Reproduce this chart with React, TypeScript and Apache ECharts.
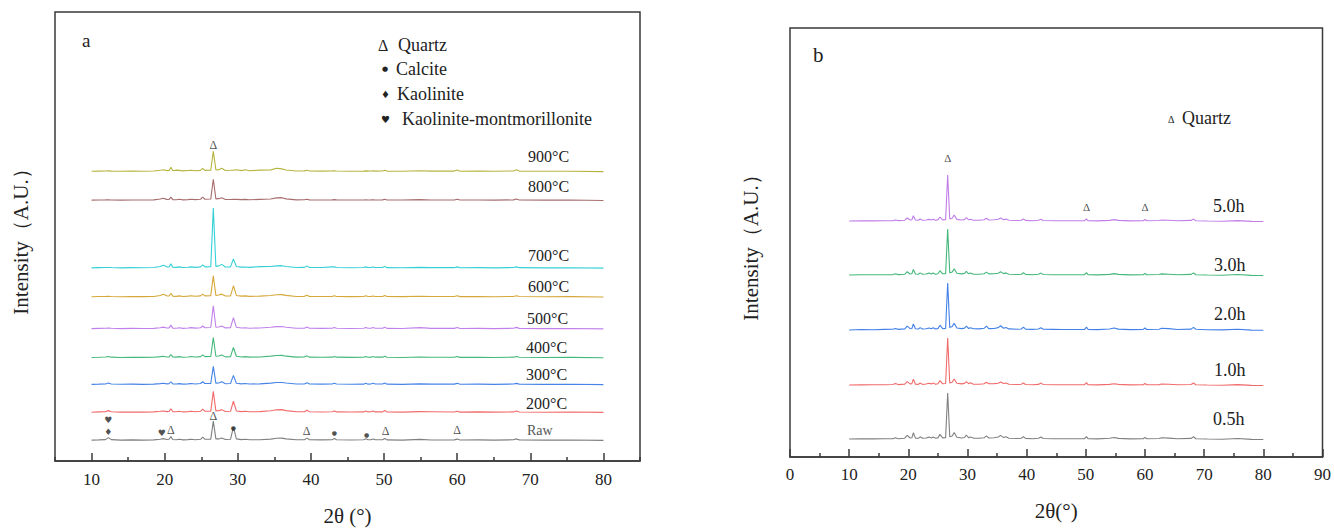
import React, { useEffect, useRef } from "react";
import * as echarts from "echarts";

// ---------- Panel a data ----------
const xA = [
  10, 11, 11.9, 12.3, 12.7, 14, 15.5, 17, 18.5, 19.4,
  19.8, 20.3, 20.6, 20.85, 21.1, 21.6, 22, 22.5, 23.2, 23.6,
  24.2, 24.9, 25.2, 25.5, 26.3, 26.65, 27, 27.4, 27.8, 28.3,
  29, 29.4, 29.8, 30.5, 31, 31.6, 33, 34.5, 35.3, 36,
  36.6, 38, 39.1, 39.45, 39.8, 41.5, 42.9, 43.2, 43.5, 45.5,
  47.2, 47.5, 47.8, 48.2, 48.5, 48.8, 49.8, 50.1, 50.4, 52.5,
  54.9, 56.5, 59.6, 60, 60.4, 63, 65, 67.7, 68.1, 68.5,
  72, 75.5, 80,
];
const rawA = [
  0, 0.2, 0.5, 2.5, 0.5, 0, 0.2, 0, 0.2, 0.8,
  1.5, 0.6, 0.8, 3.5, 0.6, 0.3, 0.8, 0.2, 0.5, 0.9,
  0.4, 0.8, 3, 0.8, 1, 19, 1.2, 1.2, 2.2, 0.6,
  0.8, 13, 1.2, 0.5, 0.8, 0.3, 0.4, 1, 1.8, 2,
  1.2, 0.3, 0.4, 2, 0.4, 0.2, 0.4, 1.5, 0.3, 0.1,
  0.3, 1.3, 0.3, 0.4, 1.2, 0.3, 0.3, 1.6, 0.2, 0,
  0.7, 0.1, 0.2, 1, 0.1, 0.2, 0, 0.3, 1.2, 0.2,
  0, 0.1, -0.3,
];
const t200 = [
  0, 0.3, 0.5, 1.6, 0.4, 0.1, 0.2, 0.1, 0.3, 0.9,
  1.3, 0.6, 0.8, 3.5, 0.5, 0.4, 0.9, 0.3, 0.6, 1.0,
  0.5, 0.9, 3.2, 0.9, 1.1, 21, 1.3, 1.5, 2.6, 0.7,
  0.9, 11, 1.3, 0.6, 0.9, 0.4, 0.6, 1.4, 2.4, 2.6,
  1.6, 0.4, 0.5, 2.0, 0.4, 0.2, 0.4, 1.3, 0.3, 0.2,
  0.3, 1.2, 0.3, 0.4, 1.2, 0.3, 0.3, 1.8, 0.2, 0.1,
  0.6, 0.5, 0.2, 1.0, 0.1, 0.3, 0.1, 0.3, 1.2, 0.2,
  0, 0.2, -0.2,
];
const t300 = [
  0, 0.2, 0.4, 1.3, 0.3, 0.1, 0.2, 0, 0.2, 0.7,
  1.1, 0.5, 0.6, 2.6, 0.4, 0.3, 0.7, 0.2, 0.5, 0.8,
  0.4, 0.8, 2.6, 0.8, 1.0, 18, 1.2, 1.3, 2.5, 0.6,
  0.8, 9, 1.1, 0.5, 0.8, 0.3, 0.5, 1.2, 1.8, 1.9,
  1.3, 0.3, 0.4, 1.6, 0.3, 0.2, 0.3, 1.0, 0.3, 0.1,
  0.2, 1.0, 0.2, 0.3, 1.0, 0.3, 0.3, 1.3, 0.2, 0,
  0.5, 0.2, 0.2, 1.0, 0.1, 0.2, 0, 0.3, 1.0, 0.2,
  0, 0.1, -0.3,
];
const t400 = [
  0, 0.2, 0.4, 1.0, 0.3, 0, 0.2, 0.1, 0.2, 0.8,
  1.2, 0.5, 0.6, 3.0, 0.4, 0.3, 0.8, 0.2, 0.5, 0.9,
  0.4, 0.8, 2.6, 0.8, 1.0, 20, 1.2, 1.4, 2.5, 0.6,
  0.8, 10, 1.2, 0.5, 0.8, 0.3, 0.5, 1.3, 2.0, 2.1,
  1.3, 0.3, 0.4, 1.6, 0.3, 0.2, 0.3, 1.0, 0.3, 0.1,
  0.2, 0.9, 0.2, 0.3, 0.9, 0.3, 0.3, 1.3, 0.2, 0,
  0.5, 0.2, 0.2, 1.0, 0.1, 0.2, 0, 0.3, 1.0, 0.2,
  0, 0.1, -0.3,
];
const t500 = [
  0, 0.2, 0.3, 0.6, 0.3, 0, 0.2, 0.1, 0.2, 0.9,
  1.5, 0.6, 0.7, 3.5, 0.5, 0.3, 0.8, 0.2, 0.6, 1.0,
  0.5, 0.9, 2.6, 0.9, 1.1, 23, 1.3, 1.6, 2.6, 0.7,
  0.9, 11, 1.3, 0.6, 0.9, 0.4, 0.6, 1.3, 2.0, 2.1,
  1.4, 0.3, 0.4, 1.6, 0.3, 0.2, 0.3, 1.0, 0.3, 0.1,
  0.3, 1.0, 0.3, 0.4, 1.0, 0.3, 0.3, 1.4, 0.2, 0.1,
  1.0, 0.2, 0.2, 1.0, 0.1, 0.2, 0, 0.3, 1.2, 0.2,
  0, 0.1, -0.3,
];
const t600 = [
  0, 0.2, 0.3, 0.4, 0.3, 0, 0.2, 0.1, 0.3, 1.2,
  2.5, 0.9, 0.8, 3.5, 0.6, 0.4, 0.9, 0.3, 0.6, 1.0,
  0.5, 0.9, 2.6, 0.9, 1.1, 21, 1.4, 1.7, 2.6, 0.8,
  0.9, 11, 1.3, 0.6, 0.9, 0.4, 0.6, 1.3, 2.0, 2.1,
  1.4, 0.3, 0.4, 1.5, 0.3, 0.2, 0.3, 1.0, 0.3, 0.1,
  0.3, 1.0, 0.3, 0.3, 0.8, 0.3, 0.3, 1.3, 0.2, 0.1,
  0.5, 0.2, 0.2, 1.0, 0.1, 0.2, 0, 0.3, 1.0, 0.2,
  0, 0.1, -0.3,
];
const t700 = [
  0, 0.2, 0.3, 0.4, 0.3, 0, 0.2, 0.1, 0.3, 1.3,
  2.6, 1.0, 0.9, 4.0, 0.6, 0.5, 1.0, 0.3, 0.6, 1.0,
  0.5, 1.0, 3.0, 1.0, 1.2, 60, 1.5, 2.0, 3.5, 0.9,
  1.0, 9, 1.3, 0.7, 0.9, 0.5, 1.2, 1.3, 2.0, 2.2,
  1.4, 0.3, 0.5, 2.0, 0.4, 0.3, 1.0, 1.0, 0.3, 0.1,
  0.3, 1.0, 0.3, 0.3, 0.8, 0.3, 0.3, 1.5, 0.2, 0.1,
  0.5, 0.2, 0.2, 1.0, 0.1, 0.2, 0, 0.3, 1.0, 0.2,
  0, 0.1, -0.3,
];
const t800 = [
  0, 0.2, 0.3, 0.4, 0.2, 0, 0.2, 0.1, 0.3, 1.2,
  2.0, 0.8, 0.7, 3.0, 0.5, 0.4, 0.9, 0.3, 0.5, 0.9,
  0.5, 0.9, 3.0, 0.9, 1.1, 21, 1.3, 1.5, 2.5, 0.7,
  0.6, 0.8, 0.8, 0.5, 0.8, 0.4, 0.8, 1.2, 2.3, 2.5,
  1.3, 0.3, 0.4, 1.0, 0.3, 0.2, 0.3, 0.5, 0.3, 0.1,
  0.2, 0.4, 0.2, 0.3, 0.4, 0.2, 0.3, 1.0, 0.2, 0.1,
  0.5, 0.2, 0.2, 1.0, 0.1, 0.2, 0, 0.3, 1.2, 0.2,
  0, 0.1, -0.3,
];
const t900 = [
  0, 0.2, 0.3, 0.4, 0.2, 0, 0.2, 0.1, 0.3, 1.0,
  1.5, 0.7, 0.8, 4.0, 0.6, 1.2, 0.9, 0.4, 0.8, 1.0,
  0.5, 0.9, 3.0, 0.9, 1.1, 20, 1.4, 1.6, 3.0, 0.8,
  1.0, 1.2, 1.5, 0.7, 1.5, 0.5, 1.2, 1.4, 3.0, 2.4,
  1.3, 0.3, 0.4, 1.0, 0.3, 0.2, 0.4, 0.5, 0.3, 0.1,
  0.2, 0.4, 0.2, 0.3, 0.4, 0.2, 0.3, 1.0, 0.2, 0.1,
  0.5, 0.2, 0.2, 1.2, 0.1, 0.2, 0, 0.3, 1.5, 0.2,
  0, 0.1, -0.3,
];
const namesA = ["Raw", "200°C", "300°C", "400°C", "500°C", "600°C", "700°C", "800°C", "900°C"];
const tracesA = [rawA, t200, t300, t400, t500, t600, t700, t800, t900];
const offsetsA = [21, 49, 77, 104, 133, 165, 194, 262, 291];

// phase marks in panel a: [2θ, intensity level, glyph]
const marksAx = [12.3, 12.3, 19.6, 20.85, 26.65, 29.4, 39.4, 43.2, 47.6, 50.2, 60.0, 26.65];
const marksAy = [41, 29, 28, 31, 45, 34, 30, 29, 27, 30, 31, 317];
const marksAg = ["♥", "♦", "♥", "Δ", "Δ", "●", "Δ", "●", "●", "Δ", "Δ", "Δ"];

// ---------- Panel b data ----------
const xB = [
  10, 12, 14, 16, 17.4, 17.8, 18.3, 19.4, 19.8, 20.3,
  20.6, 20.85, 21.2, 21.7, 22.0, 22.4, 23.0, 23.5, 23.9, 24.2,
  24.6, 25.0, 25.35, 25.8, 26.3, 26.65, 27.0, 27.4, 27.75, 28.2,
  29.0, 29.5, 29.8, 30.2, 30.5, 31.0, 32.0, 32.8, 33.2, 33.6,
  34.5, 35.2, 35.6, 36.1, 36.5, 37.0, 38.5, 39.1, 39.45, 39.8,
  41.0, 42.0, 42.4, 42.8, 44.5, 46.0, 48.0, 49.8, 50.1, 50.4,
  52.0, 54.0, 54.8, 55.5, 57.5, 59.7, 60.0, 60.3, 62.4, 62.8,
  64.0, 65.5, 67.8, 68.2, 68.6, 70.5, 73.0, 75.7, 78.0, 80.0,
];
const h05 = [
  0, 0.2, 0.1, 0.2, 0.3, 1.2, 0.3, 0.8, 3.6, 1.0,
  1.2, 6.2, 0.9, 0.7, 2.2, 0.7, 1.0, 1.9, 1.0, 2.0,
  0.8, 1.1, 4.6, 1.1, 1.4, 46, 2.2, 3.0, 6.5, 1.8,
  1.0, 1.5, 4.0, 1.2, 1.9, 0.9, 0.7, 1.2, 3.2, 1.0,
  1.2, 2.0, 3.6, 1.4, 2.2, 0.7, 0.5, 0.7, 2.4, 0.6,
  0.3, 0.7, 2.0, 0.5, 0.3, 0.2, 0.2, 0.3, 2.4, 0.2,
  0.1, 0.7, 1.5, 0.6, 0.1, 0.3, 1.6, 0.2, 0.5, 1.2,
  0.9, 0.2, 0.6, 2.2, 0.3, 0.0, -0.2, 0.5, -0.4, -0.5,
];
const h10 = [
  0, 0.1, 0.2, 0.2, 0.5, 1.4, 0.4, 0.9, 3.4, 1.1,
  1.3, 5.8, 0.8, 0.6, 2.0, 0.6, 1.0, 1.8, 1.1, 1.9,
  0.7, 1.2, 4.4, 1.2, 1.5, 47, 2.0, 2.8, 6.0, 1.7,
  1.1, 1.6, 3.4, 1.3, 2.2, 0.8, 0.7, 1.3, 2.8, 1.2,
  1.4, 1.7, 3.0, 1.5, 2.0, 0.7, 0.5, 0.7, 2.0, 0.5,
  0.3, 0.6, 1.9, 0.5, 0.2, 0.3, 0.2, 0.3, 2.3, 0.2,
  0.1, 0.6, 1.3, 0.6, 0.1, 0.3, 1.5, 0.2, 0.4, 1.0,
  0.8, 0.2, 0.5, 2.0, 0.3, 0.0, -0.2, 0.4, -0.4, -0.5,
];
const h20 = [
  0, 0.5, 0.2, 0.6, 0.7, 1.5, 0.6, 1.1, 3.8, 1.3,
  1.5, 6.0, 1.2, 1.0, 2.4, 1.0, 1.2, 2.0, 1.2, 2.2,
  1.1, 1.4, 4.8, 1.3, 1.6, 47, 2.4, 3.4, 6.8, 2.0,
  1.4, 1.9, 3.8, 1.5, 2.3, 1.2, 1.1, 1.7, 3.8, 1.4,
  1.5, 2.4, 4.2, 1.8, 2.5, 1.1, 0.7, 1.0, 2.8, 0.8,
  0.6, 1.0, 2.2, 0.7, 0.6, 0.5, 0.5, 0.6, 2.8, 0.5,
  0.4, 1.0, 2.0, 0.9, 0.4, 0.6, 2.0, 0.5, 0.8, 1.8,
  1.4, 0.5, 0.9, 2.6, 0.8, 0.3, 0.1, 0.8, -0.1, -0.3,
];
const h30 = [
  0, 0.2, 0.2, 0.2, 0.4, 1.2, 0.4, 0.7, 3.3, 1.0,
  1.2, 5.6, 1.0, 0.7, 2.1, 0.7, 1.0, 1.9, 1.0, 2.0,
  0.8, 1.2, 4.3, 1.2, 1.4, 46, 2.1, 2.9, 6.3, 1.7,
  1.1, 1.6, 3.6, 1.2, 2.0, 0.8, 0.7, 1.2, 2.9, 1.1,
  1.2, 1.8, 3.2, 1.4, 2.1, 0.7, 0.5, 0.7, 2.2, 0.6,
  0.3, 0.7, 1.9, 0.5, 0.3, 0.2, 0.2, 0.3, 2.4, 0.2,
  0.1, 0.6, 1.4, 0.6, 0.1, 0.3, 1.5, 0.2, 0.5, 1.1,
  0.8, 0.2, 0.6, 2.0, 0.3, 0.0, -0.2, 0.5, -0.4, -0.5,
];
const h50 = [
  0, 0.2, 0.1, 0.2, 0.4, 1.0, 0.4, 0.8, 3.0, 1.0,
  1.2, 5.2, 1.0, 0.7, 2.0, 0.7, 1.0, 1.6, 1.0, 1.8,
  0.8, 1.1, 4.0, 1.1, 1.4, 46, 2.0, 2.8, 6.0, 1.6,
  1.0, 1.4, 3.3, 1.2, 1.7, 0.8, 0.7, 1.2, 2.8, 1.0,
  1.2, 1.7, 3.0, 1.3, 1.9, 0.7, 0.5, 0.7, 2.0, 0.6,
  0.3, 0.7, 1.8, 0.5, 0.3, 0.2, 0.2, 0.3, 2.2, 0.2,
  0.1, 0.6, 1.4, 0.6, 0.1, 0.3, 1.5, 0.2, 0.5, 1.0,
  0.7, 0.2, 0.6, 1.9, 0.3, 0.0, -0.2, 0.4, -0.4, -0.5,
];
const namesB = ["0.5h", "1.0h", "2.0h", "3.0h", "5.0h"];
const tracesB = [h05, h10, h20, h30, h50];
const offsetsB = [18, 72, 127, 182, 236];

const marksBx = [26.65, 50.1, 60.0];
const marksBy = [299, 250, 250];

const ticksA = [10, 20, 30, 40, 50, 60, 70, 80];

// ---------- styles ----------
const colorsA = ["#808080", "#f26b6b", "#4784e6", "#45b87b", "#c281ea", "#d6a83a", "#35d0d6", "#a86d6d", "#b6b440"];
const colorsB = ["#808080", "#f26b6b", "#4281e8", "#45b87b", "#c07ee9"];
const SERIF = "Liberation Serif, Times New Roman, DejaVu Serif, serif";
const SYM = "DejaVu Sans, Liberation Serif, sans-serif";

function txt(text: string, x: number, y: number, size: number, color = "#222", family = SERIF) {
  return {
    type: "text",
    x,
    y,
    silent: true,
    style: {
      text,
      fill: color,
      fontSize: size,
      fontFamily: family,
      align: "left",
      textAlign: "left",
      verticalAlign: "middle",
      textVerticalAlign: "middle",
    },
  };
}

export default function App() {
  const ref = useRef<HTMLDivElement>(null);
  useEffect(() => {
    if (!ref.current) return;
    const chart = echarts.init(ref.current, undefined, { renderer: "svg" });

    const axisText = { color: "#222", fontSize: 17, fontFamily: SERIF };
    const nameText = { color: "#222", fontSize: 21, fontFamily: SERIF };
    const lineSeries: any[] = [];
    tracesA.forEach((tr, i) => {
      lineSeries.push({
        type: "line",
        name: namesA[i],
        xAxisIndex: 0,
        yAxisIndex: 0,
        data: xA.map((x, k) => [x, offsetsA[i] + tr[k]]),
        showSymbol: false,
        symbol: "none",
        lineStyle: { color: colorsA[i], width: 1.1 },
        itemStyle: { color: colorsA[i] },
        z: 2,
      });
    });
    tracesB.forEach((tr, i) => {
      lineSeries.push({
        type: "line",
        name: namesB[i],
        xAxisIndex: 1,
        yAxisIndex: 1,
        data: xB.map((x, k) => [x, offsetsB[i] + tr[k]]),
        showSymbol: false,
        symbol: "none",
        lineStyle: { color: colorsB[i], width: 1.1 },
        itemStyle: { color: colorsB[i] },
        z: 2,
      });
    });

    const glyphLabel = (g: string) => {
      if (g === "Δ") return {};
      if (g === "●") return { fontSize: 6, fontFamily: SYM };
      return { fontSize: 9, fontFamily: SYM };
    };

    const markSeriesA = {
      type: "scatter",
      xAxisIndex: 0,
      yAxisIndex: 0,
      symbolSize: 1,
      itemStyle: { color: "rgba(0,0,0,0)" },
      z: 5,
      label: {
        show: true,
        position: "inside",
        formatter: (p: any) => p.name,
        color: "#222",
        fontSize: 12,
        fontFamily: SERIF,
      },
      labelLayout: { hideOverlap: false },
      data: marksAx.map((x, k) => ({
        name: marksAg[k],
        value: [x, marksAy[k]],
        label: glyphLabel(marksAg[k]),
      })),
    };
    const markSeriesB = {
      type: "scatter",
      xAxisIndex: 1,
      yAxisIndex: 1,
      symbolSize: 1,
      itemStyle: { color: "rgba(0,0,0,0)" },
      z: 5,
      label: {
        show: true,
        position: "inside",
        formatter: () => "Δ",
        color: "#222",
        fontSize: 11,
        fontFamily: SERIF,
      },
      data: marksBx.map((x, k) => [x, marksBy[k]]),
    };

    const option: any = {
      animation: false,
      backgroundColor: "#ffffff",
      grid: [
        { left: 55, top: 12, width: 585, height: 451, show: true, borderColor: "#3a3a3a", borderWidth: 1.5, backgroundColor: "transparent" },
        { left: 790, top: 28, width: 533, height: 429, show: true, borderColor: "#3a3a3a", borderWidth: 1.5, backgroundColor: "transparent" },
      ],
      xAxis: [
        {
          type: "value",
          gridIndex: 0,
          min: 5,
          max: 85,
          interval: 10,
          name: "2θ (°)",
          nameLocation: "middle",
          nameGap: 44,
          nameTextStyle: nameText,
          axisLine: { show: true, onZero: false, lineStyle: { color: "#3a3a3a", width: 1.5 } },
          axisTick: { show: true, inside: true, length: 4, lineStyle: { color: "#3a3a3a", width: 1.5 } },
          minorTick: { show: true, splitNumber: 2, length: 8, lineStyle: { color: "#3a3a3a", width: 1.5 } },
          axisLabel: { ...axisText, margin: 10, customValues: ticksA },
          splitLine: { show: false },
          minorSplitLine: { show: false },
        },
        {
          type: "value",
          gridIndex: 1,
          min: 0,
          max: 90,
          interval: 10,
          name: "2θ(°)",
          nameLocation: "middle",
          nameGap: 43,
          nameTextStyle: nameText,
          axisLine: { show: true, onZero: false, lineStyle: { color: "#3a3a3a", width: 1.5 } },
          axisTick: { show: true, inside: true, length: 8, lineStyle: { color: "#3a3a3a", width: 1.5 } },
          minorTick: { show: true, splitNumber: 2, length: 4, lineStyle: { color: "#3a3a3a", width: 1.5 } },
          axisLabel: { ...axisText, margin: 9, showMinLabel: true, showMaxLabel: true },
          splitLine: { show: false },
        },
      ],
      yAxis: [
        {
          type: "value",
          gridIndex: 0,
          min: 0,
          max: 451,
          name: "Intensity（A.U.）",
          nameLocation: "middle",
          nameGap: 24,
          nameTextStyle: nameText,
          axisLine: { show: false },
          axisTick: { show: false },
          axisLabel: { show: false },
          splitLine: { show: false },
        },
        {
          type: "value",
          gridIndex: 1,
          min: 0,
          max: 429,
          name: "Intensity（A.U.）",
          nameLocation: "middle",
          nameGap: 29,
          nameTextStyle: nameText,
          axisLine: { show: false },
          axisTick: { show: false },
          axisLabel: { show: false },
          splitLine: { show: false },
        },
      ],
      series: [...lineSeries, markSeriesA, markSeriesB],
      graphic: [
        txt("a", 82, 40, 19),
        txt("Δ", 378, 45, 16),
        txt("Quartz", 398, 45, 18),
        txt("●", 382, 69, 7, "#222", SYM),
        txt("Calcite", 396, 69, 18),
        txt("♦", 381, 94, 10, "#222", SYM),
        txt("Kaolinite", 397, 94, 18),
        txt("♥", 381, 119, 10, "#222", SYM),
        txt("Kaolinite-montmorillonite", 402, 119, 18),
        txt("900°C", 528, 156, 16),
        txt("800°C", 528, 186, 16),
        txt("700°C", 528, 255, 16),
        txt("600°C", 528, 286, 16),
        txt("500°C", 527, 318, 16),
        txt("400°C", 526, 347, 16),
        txt("300°C", 526, 374, 16),
        txt("200°C", 526, 403, 16),
        txt("Raw", 527, 430, 14, "#555"),
        txt("b", 813, 55, 21),
        txt("Δ", 1168, 119, 10),
        txt("Quartz", 1182, 118, 18),
        txt("5.0h", 1213, 206, 18),
        txt("3.0h", 1214, 265, 18),
        txt("2.0h", 1214, 314, 18),
        txt("1.0h", 1214, 370, 18),
        txt("0.5h", 1213, 419, 18),
      ],
    };
    chart.setOption(option);
    return () => chart.dispose();
  }, []);

  return (
    <div
      ref={ref}
      style={{ position: "fixed", left: 0, top: 0, width: 1334, height: 531, background: "#fff" }}
    />
  );
}
